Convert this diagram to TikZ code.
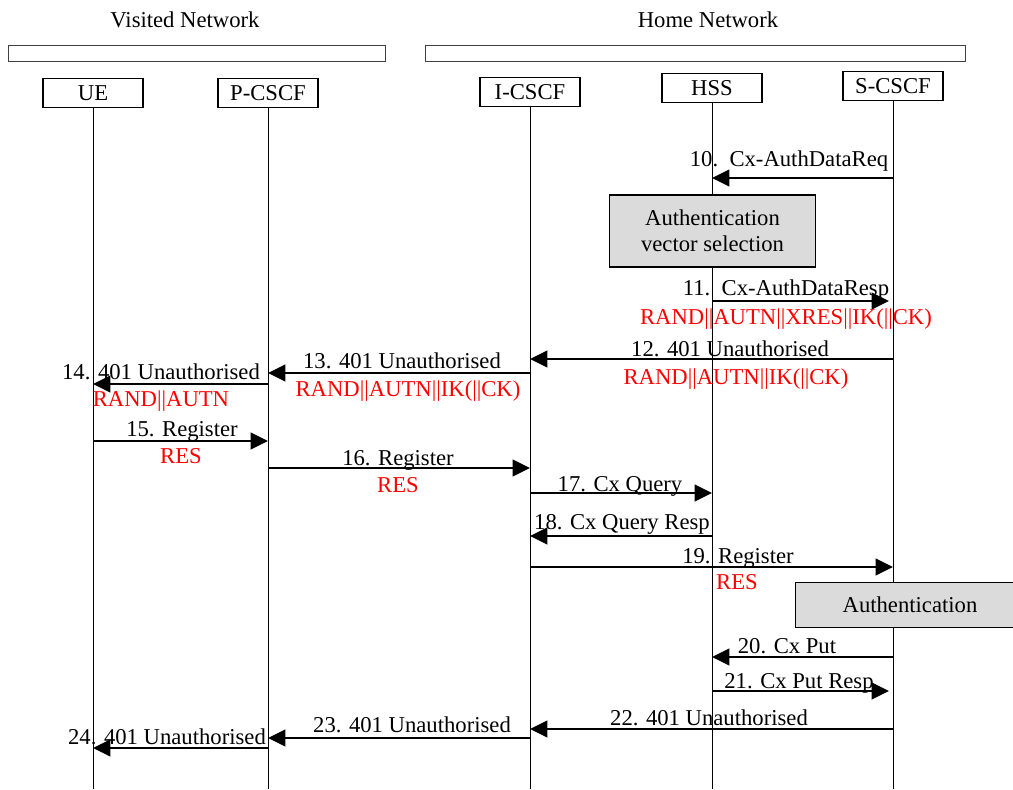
\documentclass[tikz,border=0pt]{standalone}
\usepackage{fontspec}
\setmainfont{Liberation Serif}
\usetikzlibrary{arrows.meta}

\begin{document}
\begin{tikzpicture}[x=0.75pt, y=-0.75pt,
    every node/.style={font=\fontsize{17}{19.5}\selectfont},
    entity/.style={draw, line width=0.8pt, minimum width=75pt, minimum height=22pt, inner sep=0pt},
    netbar/.style={draw=black!75, line width=0.6pt},
    life/.style={line width=0.6pt},
    msg/.style={line width=1.3pt, -{Triangle[length=13pt,width=12.5pt]}},
    lbl/.style={anchor=base, inner sep=0pt},
    redlbl/.style={lbl, text=red},
    proc/.style={draw, line width=0.8pt, fill=black!14, align=center, inner sep=0pt}]
    \clip (0,0) rectangle (1013,789);
    %networks
    \node (visited) at (185,20) {Visited Network};
    \node (home) at (708,20) {Home Network};
    \draw[netbar] (8,45) rectangle (385,61);
    \draw[netbar] (425,45) rectangle (965,61);
    %entities and lifelines
    \node[entity] (ue) at (93,93) {UE};
    \node[entity] (pcscf) at (268,93) {P-CSCF};
    \node[entity] (icscf) at (530,92) {I-CSCF};
    \node[entity] (hss) at (712,88) {HSS};
    \node[entity] (scscf) at (893,86) {S-CSCF};
    \foreach \e in {ue,pcscf,icscf,hss,scscf}
        \draw[life] (\e.south) -- (\e |- 0,789);
    %authentication data from HSS
    \draw[msg] (scscf |- 0,178) -- (hss |- 0,178);
    \node[lbl] (l10) at (789,166) {10.\ \ Cx-AuthDataReq};
    \node[proc, minimum width=154pt, minimum height=54pt] (avsel) at (712.5,231) {Authentication\\vector selection};
    \draw[msg, shorten >=3pt] (hss |- 0,301) -- (scscf |- 0,301);
    \node[lbl] (l11) at (786,295) {11.\ \ Cx-AuthDataResp};
    \node[redlbl] (r11) at (786,324) {RAND||AUTN||XRES||IK(||CK)};
    %challenge to the UE
    \draw[msg] (scscf |- 0,359) -- (icscf |- 0,359);
    \node[lbl] (l12) at (730,356) {12. 401 Unauthorised};
    \node[redlbl] (r12) at (736,384) {RAND||AUTN||IK(||CK)};
    \draw[msg] (icscf |- 0,373) -- (pcscf |- 0,373);
    \node[lbl] (l13) at (402,368) {13. 401 Unauthorised};
    \node[redlbl] (r13) at (408,396) {RAND||AUTN||IK(||CK)};
    \draw[msg] (pcscf |- 0,384) -- (ue |- 0,384);
    \node[lbl] (l14) at (161,379) {14. 401 Unauthorised};
    \node[redlbl] (r14) at (161,406) {RAND||AUTN};
    %response from the UE
    \draw[msg] (ue |- 0,441) -- (pcscf |- 0,441);
    \node[lbl] (l15) at (182,436) {15. Register};
    \node[redlbl] (r15) at (181,463) {RES};
    \draw[msg] (pcscf |- 0,468) -- (icscf |- 0,468);
    \node[lbl] (l16) at (398,465) {16. Register};
    \node[redlbl] (r16) at (398,492) {RES};
    \draw[msg] (icscf |- 0,493) -- (hss |- 0,493);
    \node[lbl] (l17) at (620,491) {17. Cx Query};
    \draw[msg] (hss |- 0,536) -- (icscf |- 0,536);
    \node[lbl] (l18) at (622,529) {18. Cx Query Resp};
    \draw[msg] (icscf |- 0,567) -- (scscf |- 0,567);
    \node[lbl] (l19) at (738,563) {19. Register};
    \node[redlbl] (r19) at (737,589) {RES};
    \node[proc, minimum width=172pt, minimum height=34pt] (auth) at (910,605) {Authentication};
    %failure
    \draw[msg] (scscf |- 0,657) -- (hss |- 0,657);
    \node[lbl] (l20) at (787,653) {20. Cx Put};
    \draw[msg, shorten >=3pt] (hss |- 0,691) -- (scscf |- 0,691);
    \node[lbl] (l21) at (799,688) {21. Cx Put Resp};
    \draw[msg] (scscf |- 0,729) -- (icscf |- 0,729);
    \node[lbl] (l22) at (709,725) {22. 401 Unauthorised};
    \draw[msg] (icscf |- 0,738) -- (pcscf |- 0,738);
    \node[lbl] (l23) at (412,732) {23. 401 Unauthorised};
    \draw[msg] (pcscf |- 0,748) -- (ue |- 0,748);
    \node[lbl] (l24) at (167,744) {24. 401 Unauthorised};
\end{tikzpicture}
\end{document}
